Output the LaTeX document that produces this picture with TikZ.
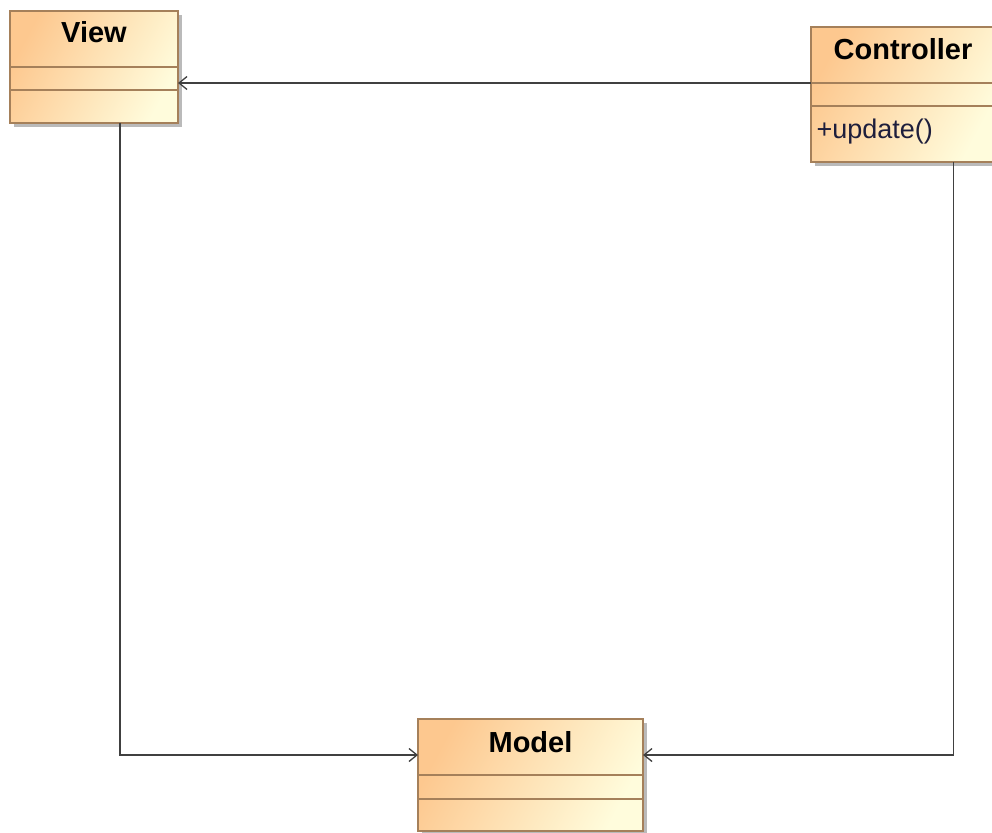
\documentclass[tikz,border=0pt]{standalone}
\usepackage{fontspec}
\setmainfont{Liberation Sans}
\usetikzlibrary{arrows.meta,shadows}

\definecolor{classhot}{HTML}{FDC88F}
\definecolor{classcool}{HTML}{FFFCDC}
\definecolor{classedge}{HTML}{A5805A}
\definecolor{wire}{HTML}{404040}
\definecolor{optext}{HTML}{1E1E3C}

\tikzset{
  umlclass/.style={rectangle, draw=classedge, line width=1.4pt,
    top color=classhot, bottom color=classcool, shading angle=62,
    inner sep=0pt, outer sep=0pt, anchor=north west,
    drop shadow={shadow xshift=4pt, shadow yshift=-4pt, fill=black!30, opacity=0.9}},
  compsep/.style={draw=classedge, line width=1.4pt},
  classname/.style={anchor=base, font=\fontsize{29}{29}\selectfont\bfseries, text=black},
  operation/.style={anchor=base west, font=\fontsize{27}{27}\selectfont, text=optext},
  assoc/.style={draw=wire, line width=1.4pt,
    -{Straight Barb[length=8pt, width=13pt, line width=1.3pt]}}
}

\begin{document}
\begin{tikzpicture}[x=1pt, y=-1pt]
  \useasboundingbox (0,0) rectangle (992,832);

  % class boxes
  \node[umlclass, minimum width=168pt, minimum height=112pt] (view) at (10,11) {};
  \node[umlclass, minimum width=184pt, minimum height=135pt] (controller) at (811,27) {};
  \node[umlclass, minimum width=225pt, minimum height=112pt] (model) at (418,719) {};

  % compartment separators
  \draw[compsep] ([yshift=-56pt]view.north west) -- ([yshift=-56pt]view.north east);
  \draw[compsep] ([yshift=-79pt]view.north west) -- ([yshift=-79pt]view.north east);
  \draw[compsep] ([yshift=-56pt]controller.north west) -- ([yshift=-56pt]controller.north east);
  \draw[compsep] ([yshift=-79pt]controller.north west) -- ([yshift=-79pt]controller.north east);
  \draw[compsep] ([yshift=-56pt]model.north west) -- ([yshift=-56pt]model.north east);
  \draw[compsep] ([yshift=-80pt]model.north west) -- ([yshift=-80pt]model.north east);

  % names and operations
  \node[classname] (viewname) at ([yshift=-32pt]view.north) {View};
  \node[classname] (controllername) at ([yshift=-33pt]controller.north) {Controller};
  \node[classname] (modelname) at ([yshift=-33pt]model.north) {Model};
  \node[operation] (update) at ([xshift=2pt, yshift=-112pt]controller.north west) {+update()};

  % associations
  \draw[assoc] ([yshift=11.5pt]controller.west) -- ([yshift=11.5pt]controller.west -| view.east);
  \draw[assoc] ([xshift=26pt]view.south) |- ([yshift=20pt]model.west);
  \draw[assoc] ([xshift=50.5pt]controller.south) |- ([yshift=20pt]model.east);
\end{tikzpicture}
\end{document}
